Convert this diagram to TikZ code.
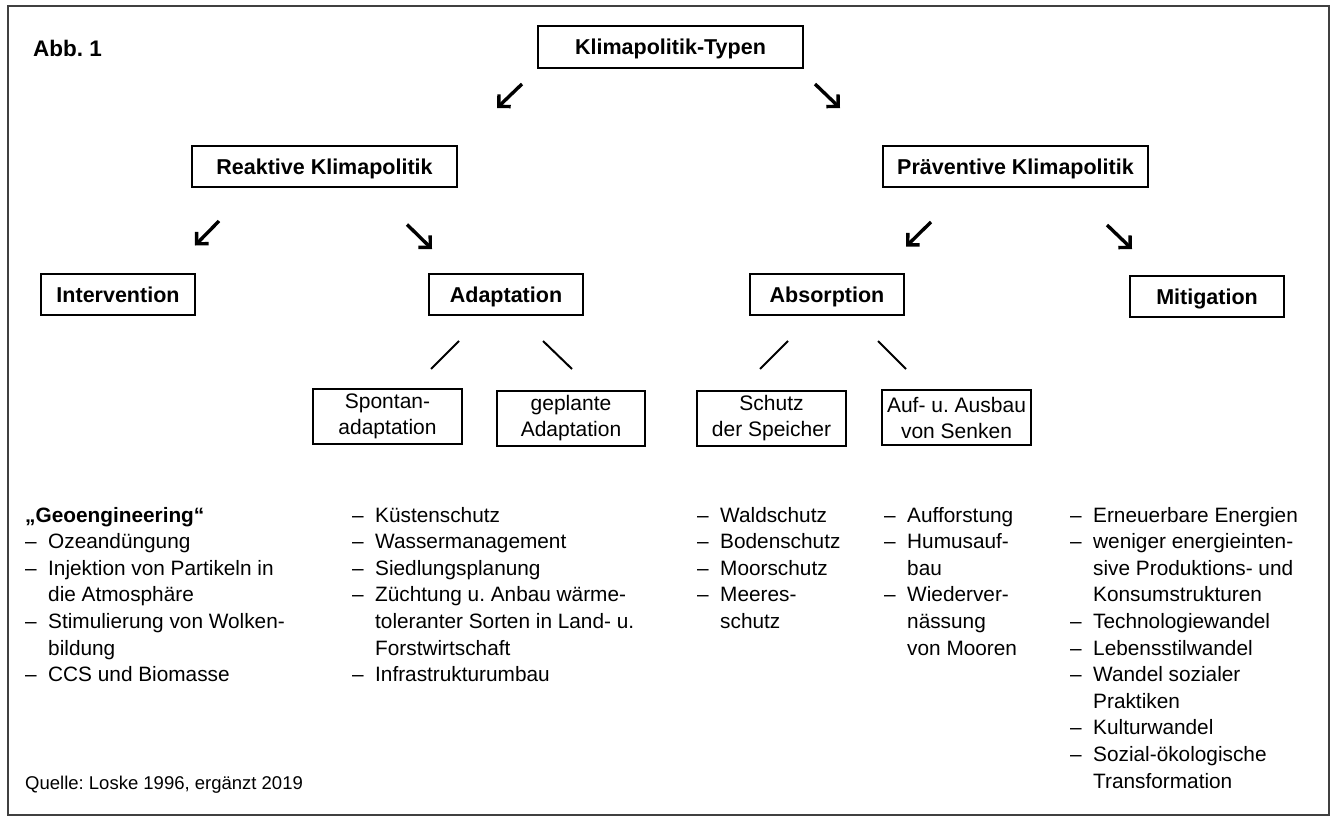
\documentclass[tikz,border=0pt]{standalone}
\usepackage{fontspec}
\setmainfont{Liberation Sans}
\usetikzlibrary{arrows.meta}
\frenchspacing
\newcommand{\litem}{\makebox[23pt][l]{–}}
\newcommand{\lind}{\hspace*{23pt}}
\begin{document}
\begin{tikzpicture}[x=1pt,y=-1pt,
  bbox/.style={draw=black, line width=1.2pt, inner sep=0pt, text height=15pt, text depth=0pt,
    font=\fontsize{21.5}{26}\selectfont\bfseries\frenchspacing},
  sbox/.style={draw=black, line width=1.2pt, inner sep=0pt, align=center,
    font=\fontsize{21}{26}\selectfont\frenchspacing},
  arr/.style={line width=3.4pt, line cap=butt, -{Straight Barb[angle=90:12pt]}},
  sl/.style={line width=2pt},
  lst/.style={anchor=base west, inner sep=0pt, font=\fontsize{20.8}{26.6}\selectfont\frenchspacing},
]
\useasboundingbox (0,0) rectangle (1336,819);
\draw[line width=1.3pt, draw=black!75] (8,6) rectangle (1329,815);

\node[anchor=base west, inner sep=0pt, font=\fontsize{22.5}{26}\selectfont\bfseries\frenchspacing] (abb) at (33,56.5) {Abb. 1};

% boxes
\node[bbox, minimum width=265, minimum height=42] (kt) at (670.5,47) {Klimapolitik-Typen};
\node[bbox, minimum width=265, minimum height=41] (rk) at (324.5,166.5) {Reaktive Klimapolitik};
\node[bbox, minimum width=265, minimum height=41] (pk) at (1015.5,166.5) {Präventive Klimapolitik};
\node[bbox, minimum width=154, minimum height=41] (iv) at (118,294.5) {Intervention};
\node[bbox, minimum width=154, minimum height=41] (ad) at (506,294.5) {Adaptation};
\node[bbox, minimum width=154, minimum height=41] (ab) at (827,294.5) {Absorption};
\node[bbox, minimum width=154, minimum height=41] (mi) at (1207,296.5) {Mitigation};
\node[sbox, minimum width=149, minimum height=55] (sp) at (387.5,416.5) {Spontan-\\adaptation};
\node[sbox, minimum width=148, minimum height=55] (ge) at (571,418.5) {geplante\\Adaptation};
\node[sbox, minimum width=149, minimum height=55] (sc) at (771.5,418.5) {Schutz\\der Speicher};
\node[sbox, minimum width=149, minimum height=55] (au) at (956.5,417.5) {Auf- u. Ausbau\\von Senken};

% arrow coordinates
\coordinate (a1s) at (522,84);   \coordinate (a1e) at (497,108);
\coordinate (a2s) at (815,84);   \coordinate (a2e) at (840,108);
\coordinate (a3s) at (219,221);  \coordinate (a3e) at (195,245.5);
\coordinate (a4s) at (407,224.5);\coordinate (a4e) at (432,249);
\coordinate (a5s) at (931,222);  \coordinate (a5e) at (906,246.5);
\coordinate (a6s) at (1107,225); \coordinate (a6e) at (1132,249);
\draw[arr] (a1s) -- (a1e);
\draw[arr] (a2s) -- (a2e);
\draw[arr] (a3s) -- (a3e);
\draw[arr] (a4s) -- (a4e);
\draw[arr] (a5s) -- (a5e);
\draw[arr] (a6s) -- (a6e);

% slash lines
\coordinate (s1a) at (431,369); \coordinate (s1b) at (459,341);
\coordinate (s2a) at (543,341); \coordinate (s2b) at (572,369);
\coordinate (s3a) at (760,369); \coordinate (s3b) at (788,341);
\coordinate (s4a) at (878,341); \coordinate (s4b) at (906,369);
\draw[sl] (s1a) -- (s1b);
\draw[sl] (s2a) -- (s2b);
\draw[sl] (s3a) -- (s3b);
\draw[sl] (s4a) -- (s4b);

% lists
\node[lst] (l1) at (25,522) {\begin{tabular}[t]{@{}l@{}}
\textbf{„Geoengineering“}\\
\litem Ozeandüngung\\
\litem Injektion von Partikeln in\\
\lind die Atmosphäre\\
\litem Stimulierung von Wolken-\\
\lind bildung\\
\litem CCS und Biomasse
\end{tabular}};
\node[lst] (l2) at (352,522) {\begin{tabular}[t]{@{}l@{}}
\litem Küstenschutz\\
\litem Wassermanagement\\
\litem Siedlungsplanung\\
\litem Züchtung u. Anbau wärme-\\
\lind toleranter Sorten in Land- u.\\
\lind Forstwirtschaft\\
\litem Infrastrukturumbau
\end{tabular}};
\node[lst] (l3) at (697,522) {\begin{tabular}[t]{@{}l@{}}
\litem Waldschutz\\
\litem Bodenschutz\\
\litem Moorschutz\\
\litem Meeres-\\
\lind schutz
\end{tabular}};
\node[lst] (l4) at (884,522) {\begin{tabular}[t]{@{}l@{}}
\litem Aufforstung\\
\litem Humusauf-\\
\lind bau\\
\litem Wiederver-\\
\lind nässung\\
\lind von Mooren
\end{tabular}};
\node[lst] (l5) at (1070,522) {\begin{tabular}[t]{@{}l@{}}
\litem Erneuerbare Energien\\
\litem weniger energieinten-\\
\lind sive Produktions- und\\
\lind Konsumstrukturen\\
\litem Technologiewandel\\
\litem Lebensstilwandel\\
\litem Wandel sozialer\\
\lind Praktiken\\
\litem Kulturwandel\\
\litem Sozial-ökologische\\
\lind Transformation
\end{tabular}};

\node[anchor=base west, inner sep=0pt, font=\fontsize{18.5}{22}\selectfont\frenchspacing] (src) at (25,789.5) {Quelle: Loske 1996, ergänzt 2019};
\end{tikzpicture}
\end{document}
